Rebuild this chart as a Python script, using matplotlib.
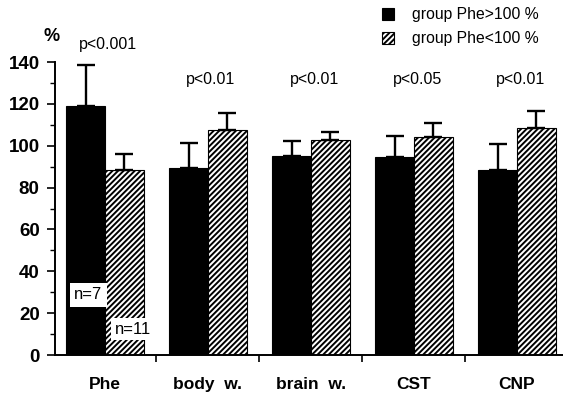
import matplotlib
matplotlib.use("Agg")
import matplotlib.pyplot as plt
from matplotlib.patches import Rectangle
import numpy as np

plt.rcParams['font.family'] = ['Liberation Sans', 'DejaVu Sans']
plt.rcParams['hatch.linewidth'] = 1.4

categories = ["Phe", "body  w.", "brain  w.", "CST", "CNP"]
high_vals = [119, 89.5, 95.3, 94.4, 88.5]
high_err = [19.7, 12.0, 6.9, 10.4, 12.5]
low_vals = [88.5, 107.5, 102.7, 104.0, 108.5]
low_err = [7.5, 8.1, 3.7, 6.7, 8.2]
p_labels = ["p<0.001", "p<0.01", "p<0.01", "p<0.05", "p<0.01"]
legend_labels = ["group Phe>100 %", "group Phe<100 %"]

W, H = 563, 393
fig = plt.figure(figsize=(W / 100, H / 100), dpi=100)
ax = fig.add_axes([55 / W, 38 / H, 508 / W, 293 / H])

x = np.arange(len(categories))
w = 0.375
ekw = dict(elinewidth=1.7, capthick=1.7)
ax.bar(x - w / 2, high_vals, w, color="black", edgecolor="black", linewidth=0.8,
       yerr=[np.zeros(len(x)), high_err], capsize=6.8, error_kw=ekw, zorder=2)
ax.bar(x + w / 2, low_vals, w, color="white", edgecolor="black", linewidth=0.8,
       hatch="//////", yerr=[np.zeros(len(x)), low_err], capsize=6.8, error_kw=ekw, zorder=2)

ax.set_xlim(-0.485, 4.447)
ax.set_ylim(0, 140)

for s in ["top", "right"]:
    ax.spines[s].set_visible(False)
for s in ["left", "bottom"]:
    ax.spines[s].set_linewidth(1.4)

ax.set_yticks(np.arange(0, 141, 20))
ax.set_yticks(np.arange(0, 141, 10), minor=True)
ax.tick_params(axis="y", which="major", length=6, width=1.2, labelsize=13.5, pad=5)
ax.tick_params(axis="y", which="minor", length=3.5, width=1.0)
for lab in ax.get_yticklabels():
    lab.set_fontweight("bold")

ax.set_xticks([0.5, 1.5, 2.5, 3.5])
ax.set_xticklabels([])
ax.set_xticks(x, minor=True)
ax.set_xticklabels(categories, minor=True, fontsize=12.5, fontweight="bold")
ax.tick_params(axis="x", which="major", length=5, width=1.2)
ax.tick_params(axis="x", which="minor", length=0, pad=16)

# p-value annotations
p_y = [148.5, 131.5, 131.5, 131.5, 131.5]
for xi, lab, py in zip(x, p_labels, p_y):
    ax.text(xi + 0.03, py, lab, ha="center", va="center", fontsize=11.5, clip_on=False)

ax.text(-0.52, 152, "%", ha="center", va="center", fontsize=13, fontweight="bold", clip_on=False)

# n labels
ax.text(-0.16, 28.7, "n=7", ha="center", va="center", fontsize=12, zorder=5,
        bbox=dict(facecolor="white", edgecolor="none", pad=3.5))
ax.text(0.27, 12.4, "n=11", ha="center", va="center", fontsize=12, zorder=5,
        bbox=dict(facecolor="white", edgecolor="none", pad=2.5))

# legend
ys = [14, 38]
for yy, lab, filled in zip(ys, legend_labels, [True, False]):
    r = Rectangle((382 / W, 1 - (yy + 6) / H), 12 / W, 12 / H, transform=fig.transFigure,
                  facecolor="black" if filled else "white", edgecolor="black", linewidth=0.8,
                  hatch=None if filled else "//////")
    fig.add_artist(r)
    fig.text(412 / W, 1 - yy / H, lab, ha="left", va="center", fontsize=11.3)

fig.savefig("out.png", dpi=100)
